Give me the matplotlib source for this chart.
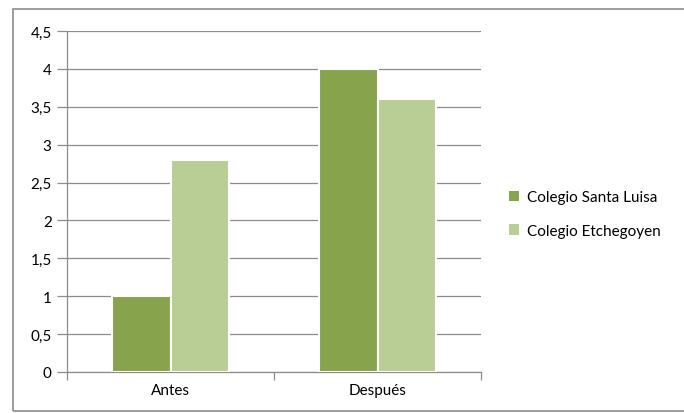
import matplotlib
matplotlib.use("Agg")
import matplotlib.pyplot as plt
from matplotlib.patches import Rectangle
from matplotlib.ticker import FuncFormatter, FixedLocator
import numpy as np

categories = ["Antes", "Después"]
series_names = ["Colegio Santa Luisa", "Colegio Etchegoyen"]
santa_luisa = [1, 4]
etchegoyen = [2.8, 3.6]
colors = ["#87A34B", "#B8CE95"]

plt.rcParams['font.family'] = ['Lato', 'DejaVu Sans']

fig = plt.figure(figsize=(6.84, 4.14), dpi=100)
fig.patches.append(Rectangle((13/684, 2/414), 1.2, 1 - 12/414, transform=fig.transFigure,
                             fill=False, edgecolor="#8C8C8C", linewidth=1.2))
ax = fig.add_axes([67/684, 1 - 373/414, (481 - 67)/684, (373 - 32)/414])

x = np.arange(len(categories))
w = 0.285
for i, (vals, name) in enumerate(zip([santa_luisa, etchegoyen], series_names)):
    ax.bar(x + (i - 0.5) * w, vals, width=w, color=colors[i], edgecolor="white",
           linewidth=1.5, label=name, zorder=3)

ax.set_xlim(-0.5, 1.5)
ax.set_ylim(0, 4.5)
ax.set_yticks(np.arange(0, 4.51, 0.5))
ax.yaxis.set_major_formatter(FuncFormatter(lambda v, p: ("%g" % v).replace(".", ",")))
ax.grid(axis="y", color="#8C8C8C", linewidth=0.9, zorder=0)
ax.set_xticks(x)
ax.set_xticklabels(categories)
ax.xaxis.set_minor_locator(FixedLocator([-0.5, 0.5, 1.5]))
ax.tick_params(axis="x", which="major", length=0, labelsize=11, pad=8)
ax.tick_params(axis="x", which="minor", length=6, color="#8C8C8C", width=0.9)
ax.tick_params(axis="y", length=7, color="#8C8C8C", width=0.9, labelsize=11, pad=4)
for s in ["top", "right"]:
    ax.spines[s].set_visible(False)
for s in ["left", "bottom"]:
    ax.spines[s].set_color("#8C8C8C")
    ax.spines[s].set_linewidth(0.9)

leg = fig.legend(loc="center left", bbox_to_anchor=(495/684, 1 - 215/414), frameon=False,
                 fontsize=11, handlelength=0.7, handleheight=0.7, handletextpad=0.5,
                 labelspacing=1.25)
for p in leg.get_patches():
    p.set_edgecolor("none")

fig.savefig("out.png", dpi=100)
